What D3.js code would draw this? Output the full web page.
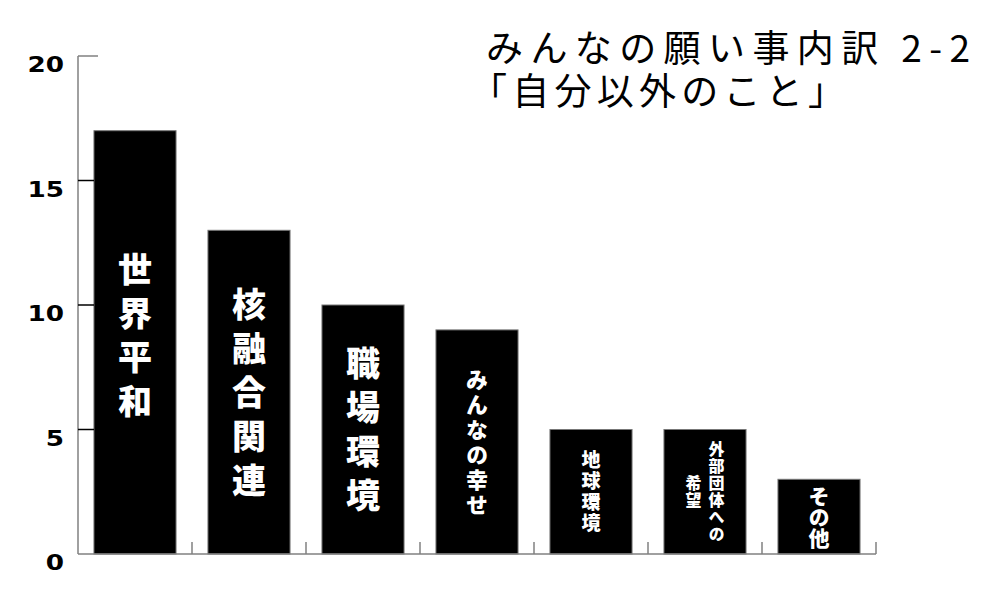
<!DOCTYPE html>
<html lang="ja">
<head>
    <meta charset="UTF-8">
    <title>みんなの願い事内訳 2-2</title>
    <script src="https://d3js.org/d3.v7.min.js"></script>
    <style>
        body { margin: 0; background: #fff; }
        svg { display: block; }
        .title { font-family: "Noto Sans CJK JP", sans-serif; font-weight: 400; font-size: 37px; fill: #000; }
        .ylabel { font-family: "DejaVu Sans", sans-serif; font-weight: bold; font-size: 21px; fill: #000; }
        .barlabel { font-family: "Noto Sans CJK JP", sans-serif; font-weight: 900; fill: #fff; writing-mode: vertical-rl; }
    </style>
</head>
<body>
    <svg width="1000" height="600"></svg>
    <script>
        // data
        const categories = ["世界平和", "核融合関連", "職場環境", "みんなの幸せ", "地球環境", "外部団体への希望", "その他"];
        const values = [17, 13, 10, 9, 5, 5, 3];
        // vertical label columns, right to left
        const labelColumns = [["世界平和"], ["核融合関連"], ["職場環境"], ["みんなの幸せ"], ["地球環境"], ["外部団体への", "希望"], ["その他"]];
        const yTicks = [0, 5, 10, 15, 20];
        const titleLines = ["みんなの願い事内訳 2-2", "「自分以外のこと」"];

        // label styling per bar
        const labelSize = [34, 34, 34, 22, 19, 16, 21];
        const labelPitch = [44, 44, 44, 25, 21, 17, 21];
        const colGap = 23;

        const svg = d3.select("svg");
        const plotLeft = 78, plotRight = 876, plotTop = 56, plotBottom = 554;

        const x = d3.scaleBand()
            .domain(categories)
            .range([plotLeft, plotRight])
            .paddingInner(0.28)
            .paddingOuter(0.14);

        const y = d3.scaleLinear()
            .domain([0, 20])
            .range([plotBottom, plotTop]);

        // bars
        svg.append("g")
            .selectAll("rect")
            .data(categories)
            .enter().append("rect")
            .attr("x", d => x(d))
            .attr("y", (d, i) => y(values[i]))
            .attr("width", x.bandwidth())
            .attr("height", (d, i) => y(0) - y(values[i]))
            .attr("fill", "#000")
            .attr("stroke", "#777")
            .attr("stroke-width", 1);

        // y axis
        const yAxis = svg.append("g");
        yAxis.append("line")
            .attr("x1", plotLeft).attr("x2", plotLeft)
            .attr("y1", y(20)).attr("y2", y(0))
            .attr("stroke", "#808080").attr("stroke-width", 1.5);
        yAxis.selectAll("line.tick")
            .data(yTicks.filter(t => t > 0))
            .enter().append("line")
            .attr("class", "tick")
            .attr("x1", plotLeft)
            .attr("x2", d => d === 20 ? plotLeft + 20 : plotLeft + 16)
            .attr("y1", d => y(d)).attr("y2", d => y(d))
            .attr("stroke", d => d === 20 ? "#808080" : "#000")
            .attr("stroke-width", 1.5);
        yAxis.selectAll("text")
            .data(yTicks)
            .enter().append("text")
            .attr("class", "ylabel")
            .attr("text-anchor", "end")
            .attr("transform", d => `translate(${plotLeft - 14},${y(d) + 16}) scale(1.25,1)`)
            .text(d => d);

        // x axis
        svg.append("line")
            .attr("x1", plotLeft).attr("x2", plotRight)
            .attr("y1", plotBottom).attr("y2", plotBottom)
            .attr("stroke", "#808080").attr("stroke-width", 1.5);
        svg.append("g")
            .selectAll("line")
            .data(categories)
            .enter().append("line")
            .attr("x1", (d, i) => plotLeft + x.step() * (i + 1))
            .attr("x2", (d, i) => plotLeft + x.step() * (i + 1))
            .attr("y1", plotBottom).attr("y2", plotBottom - 12)
            .attr("stroke", "#808080").attr("stroke-width", 1.5);

        // vertical labels inside bars, one text per column
        const labels = svg.append("g");
        categories.forEach((c, i) => {
            const cx = x(c) + x.bandwidth() / 2;
            const mid = (y(values[i]) + y(0)) / 2;
            const cols = labelColumns[i];
            const spacing = labelPitch[i] - labelSize[i];
            labels.selectAll(null)
                .data(cols)
                .enter().append("text")
                .attr("class", "barlabel")
                .attr("font-size", labelSize[i])
                .attr("letter-spacing", spacing)
                .attr("text-anchor", "middle")
                .attr("x", (col, j) => cx + (cols.length - 1) / 2 * colGap - j * colGap)
                .attr("y", mid + (i === 0 ? -2 : spacing / 2))
                .text(col => col);
        });

        // title, two lines in one text element
        const titleX = [486, 470], titleY = [62, 105], titleLen = [484, 375];
        svg.append("text")
            .attr("class", "title")
            .selectAll("tspan")
            .data(titleLines)
            .enter().append("tspan")
            .attr("x", (d, i) => titleX[i])
            .attr("y", (d, i) => titleY[i])
            .attr("textLength", (d, i) => titleLen[i])
            .attr("lengthAdjust", "spacing")
            .text(d => d);
    </script>
</body>
</html>
